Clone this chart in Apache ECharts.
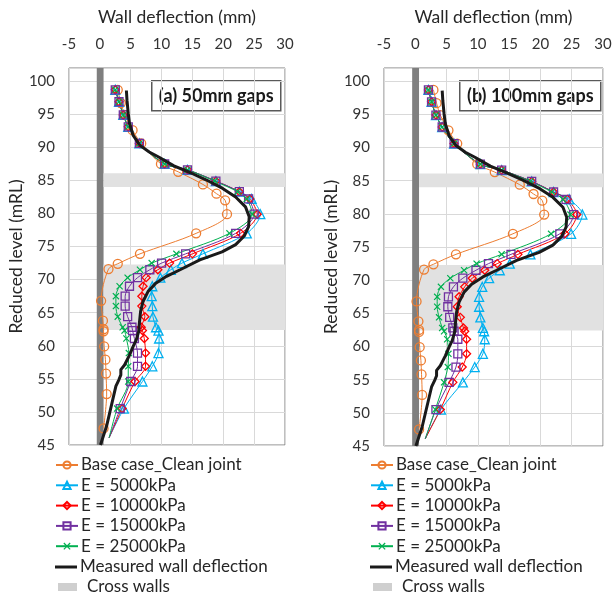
<!DOCTYPE html>
<html>
<head>
<meta charset="utf-8">
<script src="https://cdn.jsdelivr.net/npm/echarts@6.0.0/dist/echarts.min.js"></script>
<style>
  html, body { margin: 0; padding: 0; background: #fff; }
  #chart { width: 613px; height: 595px; }
</style>
</head>
<body>
<div id="chart"></div>
<script>
// reduced levels (mRL) of the nodes
var levelsE = [98.7, 96.9, 94.9, 93.1, 90.6, 87.5, 86.6, 84.9, 83.3, 82.2, 79.9, 77.0, 73.9, 72.5, 71.5, 70.3, 69.0, 67.5, 66.0, 64.4, 62.8, 62.3, 61.1, 58.9, 56.9, 54.6, 50.5, 46.1];
var levelsBase = [98.7, 96.7, 94.9, 92.6, 90.6, 87.5, 86.3, 84.4, 83.0, 82.0, 79.9, 77.0, 73.9, 72.4, 71.6, 66.8, 63.8, 62.5, 62.2, 59.9, 57.9, 55.8, 52.7, 47.5];
var levelsMeasured = [98.6, 97.1, 95.1, 93.6, 91.8, 90.3, 89.3, 88.5, 87.2, 86.2, 85.1, 83.8, 82.5, 81.0, 79.5, 78.0, 76.6, 75.3, 74.2, 73.0, 71.5, 70.5, 69.4, 68.2, 66.7, 65.2, 63.4, 62.2, 60.9, 59.9, 58.6, 57.1, 56.4, 55.6, 54.9, 53.9, 51.9, 49.9, 47.9, 45.0];

// wall deflection (mm)
var baseCase = [2.9, 3.4, 4.0, 5.3, 6.7, 9.9, 12.7, 16.7, 18.9, 20.3, 20.6, 15.6, 6.5, 2.9, 1.4, 0.2, 0.5, 0.6, 0.6, 0.7, 0.9, 1.0, 1.1, 0.6];
var measured = [4.3, 4.4, 4.6, 4.8, 5.4, 6.5, 8.0, 9.6, 12.0, 14.6, 17.2, 19.9, 22.0, 23.6, 24.2, 24.1, 23.4, 22.0, 19.8, 16.2, 13.0, 10.8, 9.0, 7.8, 7.0, 6.6, 6.4, 6.3, 5.9, 5.4, 4.8, 4.0, 3.4, 3.4, 3.1, 2.6, 2.1, 1.6, 1.1, 0.1];

// (a) 50mm gaps
var e5000a  = [2.5, 3.1, 3.8, 4.6, 6.4, 10.5, 14.2, 18.8, 22.6, 24.6, 26.0, 23.8, 16.7, 13.3, 11.5, 9.8, 8.5, 8.4, 8.5, 8.6, 9.1, 9.5, 9.6, 9.5, 8.5, 6.9, 3.9, 1.5];
var e10000a = [2.5, 3.1, 3.8, 4.6, 6.4, 10.5, 14.2, 18.8, 22.6, 24.3, 25.5, 22.8, 15.0, 11.3, 9.4, 7.5, 7.0, 6.8, 6.8, 7.3, 6.7, 6.9, 7.2, 7.4, 7.4, 5.7, 3.6, 1.5];
var e15000a = [2.5, 3.1, 3.8, 4.6, 6.4, 10.5, 14.2, 18.8, 22.6, 24.1, 25.0, 22.0, 13.9, 10.0, 8.1, 6.1, 4.8, 4.1, 4.1, 4.5, 5.2, 5.3, 5.6, 6.1, 6.1, 5.0, 3.3, 1.5];
var e25000a = [2.5, 3.1, 3.8, 4.6, 6.4, 10.5, 14.2, 18.6, 22.3, 23.8, 24.7, 21.0, 12.4, 8.4, 6.5, 4.5, 3.2, 2.6, 2.6, 2.9, 3.7, 4.0, 4.3, 4.7, 4.6, 4.6, 2.8, 1.5];

// (b) 100mm gaps
var e5000b  = [2.1, 2.6, 3.3, 4.3, 6.2, 10.4, 13.8, 18.6, 22.1, 24.6, 26.7, 24.9, 18.4, 15.1, 13.5, 11.8, 10.7, 10.2, 10.2, 10.4, 10.8, 11.0, 11.1, 10.8, 9.5, 7.6, 4.1, 1.6];
var e10000b = [2.1, 2.6, 3.3, 4.3, 6.2, 10.4, 13.8, 18.6, 22.1, 24.3, 25.8, 23.9, 16.4, 13.1, 11.1, 9.1, 7.9, 7.0, 6.7, 7.2, 7.7, 7.9, 8.2, 8.2, 7.5, 6.0, 4.0, 1.6];
var e15000b = [2.1, 2.6, 3.3, 4.3, 6.2, 10.4, 13.8, 18.6, 22.1, 24.1, 25.3, 23.1, 15.3, 11.7, 9.7, 7.6, 6.1, 5.3, 5.2, 5.5, 6.0, 6.2, 6.8, 6.8, 6.5, 5.4, 3.3, 1.6];
var e25000b = [2.1, 2.6, 3.3, 4.3, 6.2, 10.4, 13.8, 18.4, 21.8, 23.6, 24.8, 21.7, 13.8, 9.8, 7.8, 5.6, 4.1, 3.5, 3.5, 3.8, 4.3, 4.6, 5.1, 5.3, 5.2, 4.6, 3.2, 1.6];

var crossWallBands = [[84.0, 86.1], [62.4, 72.3]];
var wallFace = [-0.5, 0.6];
var panelTitles = ['(a) 50mm gaps', '(b) 100mm gaps'];

var FONT = 'Lato';
var xMark = 'path://M0,1.2L1.2,0L5,3.8L8.8,0L10,1.2L6.2,5L10,8.8L8.8,10L5,6.2L1.2,10L0,8.8L3.8,5Z';

function pairs(xs, ys, lastBare) {
    return xs.map(function (x, i) {
        if (lastBare && i === xs.length - 1) {
            return {value: [x, ys[i]], symbol: 'none'};
        }
        return [x, ys[i]];
    });
}

function eLine(name, color, symbol, size, defl, idx, filled) {
    return {
        name: name,
        type: 'line',
        xAxisIndex: idx,
        yAxisIndex: idx,
        data: pairs(defl, levelsE, true),
        smooth: 0.3,
        symbol: symbol,
        symbolSize: size,
        showAllSymbol: true,
        lineStyle: {color: color, width: 1},
        itemStyle: filled ? {color: color} : {color: 'rgba(255,255,255,0)', borderColor: color, borderWidth: 1.3},
        emphasis: {disabled: true}
    };
}

function panelSeries(idx, e5, e10, e15, e25) {
    return [
        {
            type: 'line', xAxisIndex: idx, yAxisIndex: idx, data: [], z: 1, silent: true,
            markArea: {
                silent: true,
                itemStyle: {color: '#7f7f7f'},
                data: [[{xAxis: wallFace[0], yAxis: 45}, {xAxis: wallFace[1], yAxis: 102}]]
            }
        },
        {
            name: 'Cross walls', type: 'line', xAxisIndex: idx, yAxisIndex: idx, data: [], z: 1,
            itemStyle: {color: '#cfcfcf'},
            lineStyle: {color: '#cfcfcf'},
            markArea: {
                silent: true,
                itemStyle: {color: '#e1e1e1'},
                data: crossWallBands.map(function (b) {
                    return [{xAxis: wallFace[1], yAxis: b[1]}, {xAxis: 30, yAxis: b[0]}];
                })
            }
        },
        {
            name: 'Base case_Clean joint', type: 'line', xAxisIndex: idx, yAxisIndex: idx,
            data: pairs(baseCase, levelsBase, false),
            smooth: 0.3, symbol: 'circle', symbolSize: 9,
            lineStyle: {color: '#ED7D31', width: 1},
            itemStyle: {color: 'rgba(255,255,255,0)', borderColor: '#ED7D31', borderWidth: 1.3},
            emphasis: {disabled: true}
        },
        eLine('E = 5000kPa', '#00B0F0', 'triangle', 9, e5, idx, false),
        eLine('E = 10000kPa', '#FF0000', 'diamond', 8, e10, idx, false),
        eLine('E = 15000kPa', '#7030A0', 'rect', 8, e15, idx, false),
        eLine('E = 25000kPa', '#00B050', xMark, 7, e25, idx, true),
        {
            name: 'Measured wall deflection', type: 'line', xAxisIndex: idx, yAxisIndex: idx,
            data: pairs(measured, levelsMeasured, false),
            symbol: 'none', z: 5,
            lineStyle: {color: '#1a1a1a', width: 3},
            itemStyle: {color: '#1a1a1a'},
            emphasis: {disabled: true}
        }
    ];
}

var modelNames = ['Base case_Clean joint', 'E = 5000kPa', 'E = 10000kPa', 'E = 15000kPa', 'E = 25000kPa'];

function xAx(idx) {
    return {
        gridIndex: idx, type: 'value', position: 'top', min: -5, max: 30, interval: 5,
        name: 'Wall deflection (mm)', nameLocation: 'middle', nameGap: 42,
        nameTextStyle: {fontFamily: FONT, fontSize: 17.5, color: '#262626'},
        axisLine: {show: false}, axisTick: {show: false},
        axisLabel: {fontFamily: FONT, fontSize: 15, color: '#333', margin: 16},
        splitLine: {lineStyle: {color: '#d9d9d9', width: 1}}
    };
}
function yAx(idx) {
    return {
        gridIndex: idx, type: 'value', min: 45, max: 102, interval: 5,
        name: 'Reduced level (mRL)', nameLocation: 'middle', nameGap: 42,
        nameTextStyle: {fontFamily: FONT, fontSize: 17.5, color: '#262626'},
        axisLine: {show: false}, axisTick: {show: false},
        axisLabel: {
            fontFamily: FONT, fontSize: 15, color: '#333', margin: 14,
            formatter: function (v) { return v % 5 === 0 ? v : ''; }
        },
        splitLine: {lineStyle: {color: '#d9d9d9', width: 1}}
    };
}
function legendBox(left, top, names, extra) {
    var l = {
        orient: 'vertical', left: left, top: top, height: 130, itemGap: 2.3,
        itemWidth: 22, itemHeight: 9,
        textStyle: {fontFamily: FONT, fontSize: 17, color: '#262626', lineHeight: 18, padding: [0, 0, 0, -2]},
        selectedMode: false,
        data: names
    };
    for (var k in extra) { l[k] = extra[k]; }
    return l;
}
function legendsAt(left) {
    return [
        legendBox(left, 451, modelNames, {}),
        legendBox(left, 553, [{name: 'Measured wall deflection', icon: 'rect'}], {itemHeight: 3, height: 20}),
        legendBox(left + 3, 573, [{name: 'Cross walls', icon: 'rect'}], {itemWidth: 19, itemHeight: 8, height: 20,
            textStyle: {fontFamily: FONT, fontSize: 17, color: '#262626', lineHeight: 18, padding: [0, 0, 0, 5]}})
    ];
}
function titleBox(x, w, text) {
    return {
        type: 'group', left: x, top: 80, z: 100,
        children: [
            {type: 'rect', shape: {x: 0, y: 0, width: w, height: 30},
             style: {fill: '#fff', stroke: '#595959', lineWidth: 1.5}},
            {type: 'text', style: {x: w / 2, y: 15, text: text, align: 'center', verticalAlign: 'middle',
             font: 'bold 18px ' + FONT, fill: '#1a1a1a'}}
        ]
    };
}

var chart = echarts.init(document.getElementById('chart'));
var option = {
    backgroundColor: '#fff',
    animation: false,
    grid: [
        {left: 69, top: 68, width: 216, height: 377, show: true, borderColor: '#7f7f7f', borderWidth: 1,
         backgroundColor: 'transparent', outerBoundsMode: 'none'},
        {left: 384, top: 68, width: 219, height: 378, show: true, borderColor: '#7f7f7f', borderWidth: 1,
         backgroundColor: 'transparent', outerBoundsMode: 'none'}
    ],
    xAxis: [xAx(0), xAx(1)],
    yAxis: [yAx(0), yAx(1)],
    legend: legendsAt(50).concat(legendsAt(365)),
    graphic: [titleBox(151, 129, panelTitles[0]), titleBox(459, 141, panelTitles[1])],
    series: panelSeries(0, e5000a, e10000a, e15000a, e25000a)
        .concat(panelSeries(1, e5000b, e10000b, e15000b, e25000b))
};
chart.setOption(option);
</script>
</body>
</html>
